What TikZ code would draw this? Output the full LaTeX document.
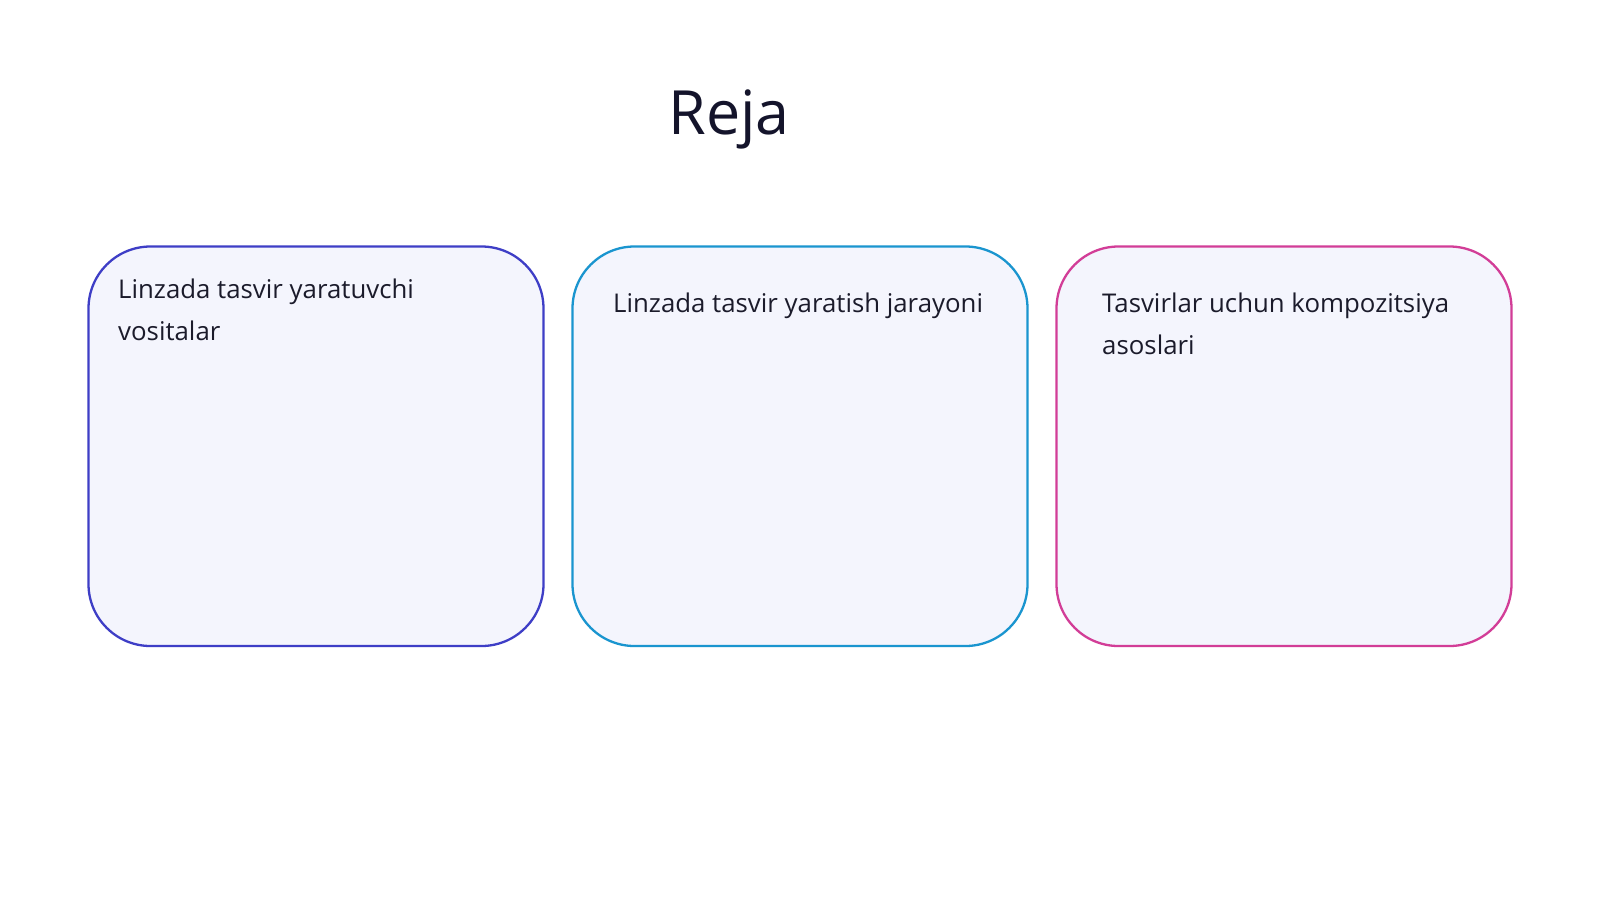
\documentclass[tikz,border=0pt]{standalone}
\usepackage{fontspec}
\setmainfont{Open Sans}
\begin{document}
\begin{tikzpicture}[x=1pt,y=-1pt,
  card/.style={draw, line width=2.3pt, fill=cardfill, rounded corners=62pt},
  cardtext/.style={anchor=base west, inner sep=0pt, text=txt, font=\fontsize{25.8}{42}\selectfont}]
\definecolor{cardfill}{HTML}{F4F5FD}
\definecolor{txt}{HTML}{1B1B2B}
\definecolor{ttl}{HTML}{14142B}
\definecolor{bA}{HTML}{3E3EC6}
\definecolor{bB}{HTML}{1A95CF}
\definecolor{bC}{HTML}{D23D97}
\useasboundingbox[fill=white] (0,0) rectangle (1600,900);
\node[anchor=base, inner sep=0pt, text=ttl, font=\fontsize{61}{64}\selectfont] (title) at (729,134) {Reja};
\draw[card, draw=bA] (88.5,246.5) rectangle (543.5,646) coordinate (c1);
\draw[card, draw=bB] (572.5,246.5) rectangle (1027.5,646) coordinate (c2);
\draw[card, draw=bC] (1056.5,246.5) rectangle (1511.5,646) coordinate (c3);
\node[cardtext] (t1) at (118,298) {\parbox[t]{420pt}{\raggedright\baselineskip=42pt Linzada tasvir yaratuvchi\\vositalar}};
\node[cardtext] (t2) at (613,312) {Linzada tasvir yaratish jarayoni};
\node[cardtext] (t3) at (1102,312) {\parbox[t]{400pt}{\raggedright\baselineskip=42pt Tasvirlar uchun kompozitsiya\\asoslari}};
\end{tikzpicture}
\end{document}
